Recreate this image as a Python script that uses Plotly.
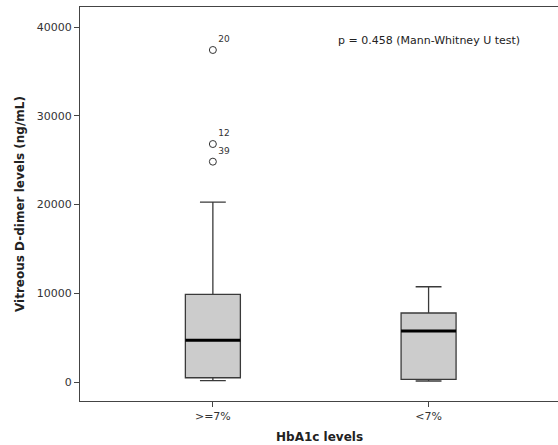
import plotly.graph_objects as go

categories = [">=7%", "<7%"]
q1 = [480, 300]
median = [4700, 5750]
q3 = [9890, 7780]
lower_whisker = [150, 110]
upper_whisker = [20290, 10740]
outlier_values = [37430, 26830, 24840]
outlier_labels = ["20", "12", "39"]
outlier_group = [0, 0, 0]
y_ticks = [0, 10000, 20000, 30000, 40000]
y_ticklabels = ["0", "10000", "20000", "30000", "40000"]

box_w = 0.255
positions = list(range(len(categories)))

fig = go.Figure()
for i, cat in enumerate(categories):
    fig.add_trace(go.Box(
        x=[positions[i]], q1=[q1[i]], median=[median[i]], q3=[q3[i]],
        lowerfence=[lower_whisker[i]], upperfence=[upper_whisker[i]],
        width=box_w, whiskerwidth=0.47,
        fillcolor="#cccccc", line=dict(color="#3a3a3a", width=1.3),
        boxpoints=False, showlegend=False, hoverinfo="skip", name=cat,
    ))
    fig.add_trace(go.Scatter(
        x=[positions[i] - box_w / 2, positions[i] + box_w / 2],
        y=[median[i], median[i]], mode="lines",
        line=dict(color="#000000", width=3), showlegend=False, hoverinfo="skip",
    ))

fig.add_trace(go.Scatter(
    x=outlier_group, y=outlier_values, mode="markers+text",
    text=outlier_labels, textposition="top right",
    textfont=dict(size=9, color="#333333", family="DejaVu Sans"),
    marker=dict(symbol="circle-open", size=7, color="#333333", line=dict(width=1)),
    showlegend=False, hoverinfo="skip",
))

fig.add_annotation(
    x=1, y=38550, xref="x", yref="y", text="p = 0.458 (Mann-Whitney U test)",
    showarrow=False, font=dict(size=11, color="#222222", family="DejaVu Sans"),
)
fig.add_annotation(
    x=0.5, y=0, xref="paper", yref="paper", xanchor="center", yanchor="middle", yshift=-36,
    text="<b>HbA1c levels</b>", showarrow=False,
    font=dict(size=12, color="#222222", family="DejaVu Sans"),
)
fig.add_annotation(
    x=0, y=0.5, xref="paper", yref="paper", xanchor="center", yanchor="middle", xshift=-60,
    text="<b>Vitreous D-dimer levels (ng/mL)</b>", showarrow=False, textangle=-90,
    font=dict(size=12, color="#222222", family="DejaVu Sans"),
)

fig.update_layout(
    width=558, height=445,
    margin=dict(l=80, r=0, t=7, b=44, autoexpand=False),
    plot_bgcolor="white", paper_bgcolor="white",
    font=dict(family="DejaVu Sans", size=11, color="#333333"),
)
fig.update_xaxes(
    range=[-0.616, 1.6], tickvals=positions, ticktext=categories, automargin=False,
    showline=True, linecolor="#444444", linewidth=1, mirror=True,
    ticks="outside", ticklen=5, tickcolor="#444444", showgrid=False, zeroline=False,
)
fig.update_yaxes(
    range=[-2142, 42277], tickvals=y_ticks, ticktext=y_ticklabels, automargin=False,
    showline=True, linecolor="#444444", linewidth=1, mirror=True,
    ticks="outside", ticklen=5, tickcolor="#444444", showgrid=False, zeroline=False,
)

fig.write_html("out.html", config={"displayModeBar": False},
               post_script="document.body.style.margin='0px';")
